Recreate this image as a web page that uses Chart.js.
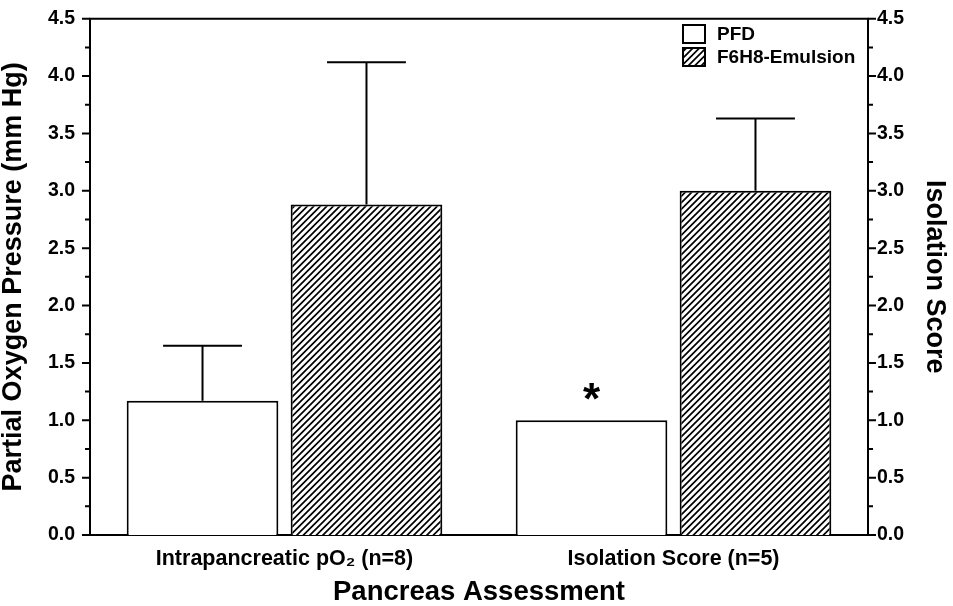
<!DOCTYPE html>
<html>
<head>
<meta charset="utf-8">
<script src="https://cdn.jsdelivr.net/npm/chart.js@4.4.1/dist/chart.umd.min.js"></script>
<style>
  html, body { margin: 0; padding: 0; background: #fff; }
  #wrap { width: 953px; height: 606px; position: relative; }
</style>
</head>
<body>
<div id="wrap"><canvas id="c" width="953" height="606"></canvas></div>
<script>
// ---- data ----
const categories = ['Intrapancreatic pO\u2082 (n=8)', 'Isolation Score (n=5)'];
const seriesNames = ['PFD', 'F6H8-Emulsion'];
const pfdMeans = [1.17, 1.0];
const pfdErrors = [0.48, null];
const emulsionMeans = [2.88, 3.0];
const emulsionErrors = [1.24, 0.63];
const significantMarks = ['', '*'];   // marks over PFD bars
const axisMin = 0, axisMax = 4.5, majorStep = 0.5, minorStep = 0.25;
const leftTitle = 'Partial Oxygen Pressure (mm Hg)';
const rightTitle = 'Isolation Score';
const xTitle = 'Pancreas Assessment';

const FONT = '"Liberation Sans", Arial, Helvetica, sans-serif';
Chart.defaults.font.family = FONT;
Chart.defaults.color = '#000';

function makeHatch() {
  const s = 13;
  const c = document.createElement('canvas');
  c.width = s; c.height = s;
  const g = c.getContext('2d');
  g.fillStyle = '#fff';
  g.fillRect(0, 0, s, s);
  g.strokeStyle = '#000';
  g.lineWidth = 1.7;
  g.beginPath();
  for (let k = -2; k <= 5; k++) {
    const cc = k * 6.5;
    g.moveTo(cc + 1, -1);
    g.lineTo(cc - s - 1, s + 1);
  }
  g.stroke();
  return g.createPattern(c, 'repeat');
}
const ctx0 = document.getElementById('c').getContext('2d');
const hatch = makeHatch();

const errorsByDataset = [pfdErrors, emulsionErrors];

const decorPlugin = {
  id: 'decor',
  afterDatasetsDraw(chart) {
    const ctx = chart.ctx;
    const y = chart.scales.y;
    ctx.save();
    ctx.strokeStyle = '#000';
    ctx.lineWidth = 2;
    chart.data.datasets.forEach((ds, di) => {
      const meta = chart.getDatasetMeta(di);
      meta.data.forEach((bar, i) => {
        const err = errorsByDataset[di][i];
        if (err == null) return;
        const v = ds.data[i];
        const yTop = y.getPixelForValue(v);
        const yErr = y.getPixelForValue(v + err);
        const half = bar.width * 0.26;
        ctx.beginPath();
        ctx.moveTo(bar.x, yTop);
        ctx.lineTo(bar.x, yErr);
        ctx.moveTo(bar.x - half, yErr);
        ctx.lineTo(bar.x + half, yErr);
        ctx.stroke();
      });
    });
    // significance marks
    const meta0 = chart.getDatasetMeta(0);
    ctx.fillStyle = '#000';
    ctx.font = 'bold 44px ' + FONT;
    ctx.textAlign = 'center';
    ctx.textBaseline = 'alphabetic';
    meta0.data.forEach((bar, i) => {
      if (!significantMarks[i]) return;
      ctx.fillText(significantMarks[i], bar.x, bar.y - 6);
    });
    ctx.restore();
  },
  afterDraw(chart) {
    const ctx = chart.ctx;
    const a = chart.chartArea;
    const y = chart.scales.y;
    ctx.save();
    ctx.strokeStyle = '#000';
    ctx.lineWidth = 2;
    // top frame line
    ctx.beginPath();
    ctx.moveTo(a.left - 1, a.top);
    ctx.lineTo(a.right + 1, a.top);
    ctx.stroke();
    // tick marks on both vertical axes
    const n = Math.round((axisMax - axisMin) / minorStep);
    ctx.beginPath();
    for (let k = 0; k <= n; k++) {
      const v = axisMin + k * minorStep;
      const py = y.getPixelForValue(v);
      const major = Math.abs(v / majorStep - Math.round(v / majorStep)) < 1e-6;
      const len = major ? 8 : 5;
      ctx.moveTo(a.left, py); ctx.lineTo(a.left - len, py);
      ctx.moveTo(a.right, py); ctx.lineTo(a.right + len, py);
    }
    ctx.stroke();
    // legend
    const lx = 683, ly = 25, bw = 22, bh = 18, gap = 23;
    ctx.font = 'bold 19px ' + FONT;
    ctx.textAlign = 'left';
    ctx.textBaseline = 'middle';
    chart.data.datasets.forEach((ds, i) => {
      const by = ly + i * gap;
      ctx.fillStyle = ds.backgroundColor;
      ctx.fillRect(lx, by, bw, bh);
      ctx.strokeRect(lx, by, bw, bh);
      ctx.fillStyle = '#000';
      ctx.fillText(ds.label, 717, by + bh / 2 + 1);
    });
    ctx.restore();
  }
};

function tickLabel(v) {
  const r = v / majorStep;
  return Math.abs(r - Math.round(r)) < 1e-6 ? v.toFixed(1) : '';
}

new Chart(ctx0, {
  type: 'bar',
  data: {
    labels: categories,
    datasets: [
      { label: seriesNames[0], data: pfdMeans, backgroundColor: '#ffffff', borderColor: '#000', borderWidth: 2, borderSkipped: 'bottom' },
      { label: seriesNames[1], data: emulsionMeans, backgroundColor: hatch, borderColor: '#000', borderWidth: 2, borderSkipped: 'bottom' }
    ]
  },
  options: {
    responsive: false,
    animation: false,
    devicePixelRatio: 1,
    categoryPercentage: 0.843,
    barPercentage: 0.925,
    layout: { padding: { top: 10, left: 0, right: 0, bottom: 0 } },
    plugins: { legend: { display: false }, tooltip: { enabled: false } },
    scales: {
      x: {
        grid: { display: false },
        border: { display: true, color: '#000', width: 2 },
        ticks: { font: { size: 21.5, weight: 'bold' }, padding: 3, color: '#000' },
        title: { display: true, text: xTitle, font: { size: 27.5, weight: 'bold', lineHeight: 1 }, padding: { top: 0, bottom: 0 }, color: '#000' },
        afterFit(s) { s.height = 71; }
      },
      y: {
        position: 'left',
        min: axisMin, max: axisMax,
        grid: { display: false },
        border: { display: true, color: '#000', width: 2 },
        ticks: { stepSize: minorStep, autoSkip: false, callback: tickLabel, font: { size: 19.5, weight: 'bold' }, padding: 7, color: '#000' },
        title: { display: true, text: leftTitle, font: { size: 27, weight: 'bold', lineHeight: 1 }, padding: { top: 0, bottom: 0 }, color: '#000' },
        afterFit(s) { s.width = 90; }
      },
      y2: {
        position: 'right',
        min: axisMin, max: axisMax,
        grid: { display: false },
        border: { display: true, color: '#000', width: 2 },
        ticks: { stepSize: minorStep, autoSkip: false, callback: tickLabel, font: { size: 19.5, weight: 'bold' }, padding: 1, color: '#000' },
        title: { display: true, text: rightTitle, font: { size: 27, weight: 'bold', lineHeight: 1 }, padding: { top: 5, bottom: 0 }, color: '#000' },
        afterFit(s) { s.width = 85; }
      }
    }
  },
  plugins: [decorPlugin]
});
</script>
</body>
</html>
